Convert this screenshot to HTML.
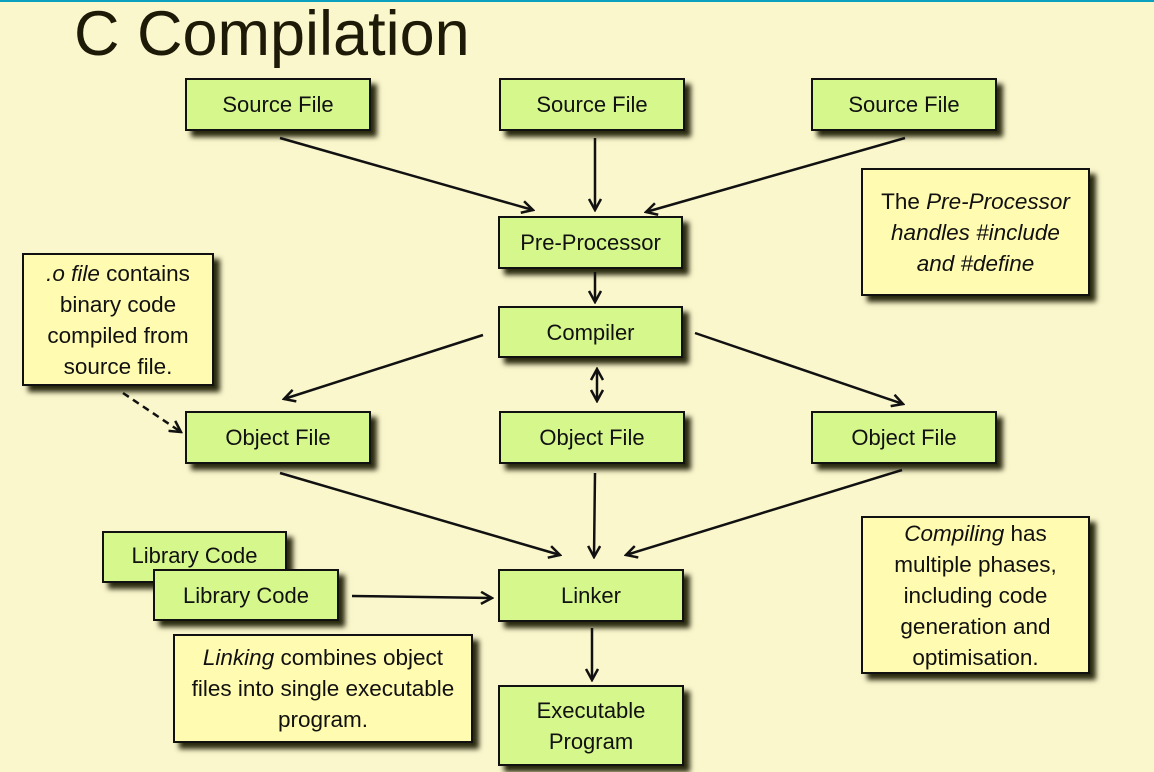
<!DOCTYPE html>
<html><head><meta charset="utf-8">
<style>
html,body{margin:0;padding:0}
body{width:1154px;height:772px;background:#fbf7cd;position:relative;overflow:hidden;font-family:"Liberation Sans",sans-serif}
.b{position:absolute;box-sizing:border-box;border:2px solid #111;background:#d5f78c;box-shadow:6px 6px 5px #2a2a10;display:flex;align-items:center;justify-content:center;text-align:center;font-size:22px;color:#111;line-height:31px;white-space:nowrap}
.n{background:#fffbb0;font-size:22.5px}
svg{position:absolute;left:0;top:0}
</style></head><body>
<div style="position:absolute;left:0;top:0;width:1154px;height:2px;background:#0aa0c0"></div>
<div style="position:absolute;left:74px;top:-2px;font-size:63px;color:#1e1a08">C Compilation</div>

<div class="b" style="left:185px;top:78px;width:186px;height:53px">Source File</div>
<div class="b" style="left:499px;top:78px;width:186px;height:53px">Source File</div>
<div class="b" style="left:811px;top:78px;width:186px;height:53px">Source File</div>
<div class="b" style="left:498px;top:216px;width:185px;height:53px">Pre-Processor</div>
<div class="b" style="left:498px;top:306px;width:185px;height:52px">Compiler</div>
<div class="b" style="left:185px;top:411px;width:186px;height:53px">Object File</div>
<div class="b" style="left:499px;top:411px;width:186px;height:53px">Object File</div>
<div class="b" style="left:811px;top:411px;width:186px;height:53px">Object File</div>
<div class="b" style="left:498px;top:569px;width:186px;height:53px">Linker</div>
<div class="b" style="left:498px;top:685px;width:186px;height:81px">Executable<br>Program</div>
<div class="b" style="left:102px;top:531px;width:185px;height:52px;align-items:flex-start;padding-top:7px">Library Code</div>
<div class="b" style="left:153px;top:569px;width:186px;height:52px">Library Code</div>
<div class="b n" style="left:173px;top:634px;width:300px;height:109px"><div><i>Linking</i> combines object<br>files into single executable<br>program.</div></div>
<div class="b n" style="left:22px;top:253px;width:192px;height:133px"><div><i>.o file</i> contains<br>binary code<br>compiled from<br>source file.</div></div>
<div class="b n" style="left:861px;top:168px;width:229px;height:128px"><div>The <i>Pre-Processor<br>handles #include<br>and #define</i></div></div>
<div class="b n" style="left:861px;top:516px;width:229px;height:158px"><div><i>Compiling</i> has<br>multiple phases,<br>including code<br>generation and<br>optimisation.</div></div>

<svg width="1154" height="772" viewBox="0 0 1154 772">
<defs><marker id="a" markerWidth="14" markerHeight="14" refX="12" refY="7" orient="auto-start-reverse" markerUnits="userSpaceOnUse"><path d="M1,1 L12,7 L1,13" fill="none" stroke="#111" stroke-width="2.5"/></marker></defs>
<g stroke="#111" stroke-width="2.5" fill="none" marker-end="url(#a)">
<line x1="280" y1="138" x2="533" y2="210"/>
<line x1="595" y1="138" x2="595" y2="210"/>
<line x1="905" y1="138" x2="646" y2="212"/>
<line x1="595" y1="272" x2="595" y2="302"/>
<line x1="483" y1="335" x2="284" y2="399"/>
<line x1="597" y1="369" x2="597" y2="401" marker-start="url(#a)"/>
<line x1="695" y1="333" x2="903" y2="404"/>
<line x1="123" y1="393" x2="181" y2="432" stroke-dasharray="7,5"/>
<line x1="280" y1="473" x2="560" y2="555"/>
<line x1="595" y1="473" x2="594" y2="557"/>
<line x1="902" y1="470" x2="626" y2="555"/>
<line x1="352" y1="596" x2="492" y2="598"/>
<line x1="592" y1="628" x2="592" y2="680"/>
</g>
</svg>
</body></html>
